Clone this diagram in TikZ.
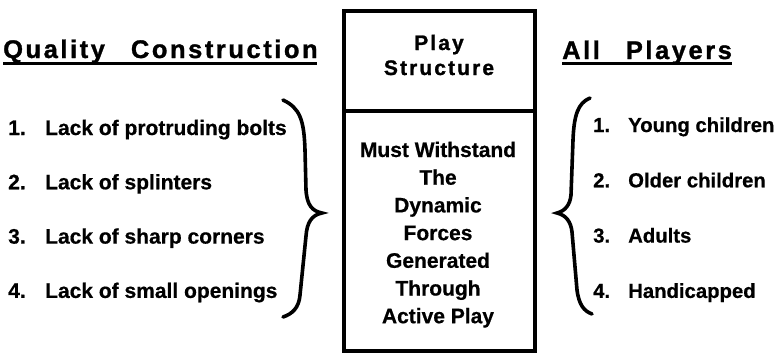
\documentclass[tikz,border=0pt]{standalone}
\usepackage{fontspec}
\setmainfont{Liberation Sans}[BoldFeatures={FakeBold=0.6}]
\newfontfamily\spacedfont{Liberation Sans Bold}[LetterSpace=10,FakeBold=1.2]
\usetikzlibrary{positioning}

\begin{document}
\begin{tikzpicture}[x=1pt,y=-1pt,heading/.style={anchor=base west,inner sep=0pt,font=\spacedfont\fontsize{25.5}{30}\selectfont},boxhead/.style={anchor=base,inner sep=0pt,font=\spacedfont\fontsize{21}{25}\selectfont},bodyline/.style={anchor=base,inner sep=0pt,font=\bfseries\fontsize{21}{25}\selectfont},item/.style={anchor=base west,inner sep=0pt,font=\bfseries\fontsize{21}{25}\selectfont},brace/.style={line width=3.6pt,line cap=round}]
	\useasboundingbox (0,0) rectangle (781,354);

	\draw[line width=3.5pt] (344,11) rectangle (535,351);
	\draw[line width=3.5pt] (344,111) -- (535,111);

	\node[boxhead]	(play)	at (439,50)	{Play};
	\node[boxhead]	(struct)	at (439,75)	{Structure};

	\foreach \txt [count=\i] in {Must Withstand,The,Dynamic,Forces,Generated,Through,Active Play}
		\node[bodyline]	(body\i)	at (438,{157+27.7*(\i-1)})	{\txt};

	\node[heading]	(quality)	at (3,58)	{Quality\hspace{26pt}Construction};
	\node[heading]	(players)	at (562,59)	{All\hspace{26pt}Players};
	\draw[line width=2.4pt] (3,63.5) -- (317,63.5);
	\draw[line width=2.4pt] (562,63.5) -- (732,63.5);

	\foreach \txt [count=\i] in {Lack of protruding bolts,Lack of splinters,Lack of sharp corners,Lack of small openings}
		\node[item]	(left\i)	at (8,{135+54.3*(\i-1)})	{\makebox[37pt][l]{\i.}\txt};

	\foreach \txt [count=\i] in {Young children,Older children,Adults,Handicapped}
		\node[item,font=\bfseries\fontsize{20.3}{24}\selectfont]	(right\i)	at (593,{132+55.3*(\i-1)})	{\makebox[35pt][l]{\i.}\txt};

	\draw[brace] (283,100) .. controls (300,108) and (304,120) .. (305,150) -- (306,190) .. controls (307,205) and (312,211) .. (322,213) .. controls (312,215) and (307,222) .. (306,236) -- (300,295) .. controls (299,308) and (292,314) .. (283,317);
	\draw[brace] (590,98) .. controls (578,103) and (574,115) .. (573,140) -- (571,195) .. controls (570,205) and (565,211) .. (557,213) .. controls (566,215) and (571,222) .. (572,232) -- (577,290) .. controls (579,305) and (584,311) .. (592,314);
\end{tikzpicture}
\end{document}
